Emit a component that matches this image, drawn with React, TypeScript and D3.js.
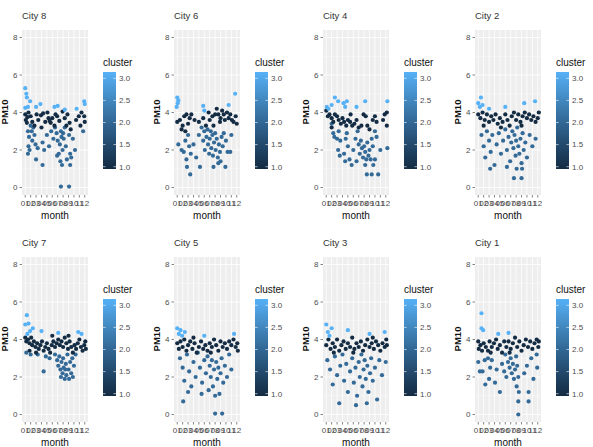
import React from 'react';
import * as d3 from 'd3';

// [month, PM10, cluster]
type Pt = [number, number, number];

const monthLabels = ['01', '02', '03', '04', '05', '06', '07', '08', '09', '10', '11', '12'];
const pmTicks = [0, 2, 4, 6, 8];
const pmMinor = [1, 3, 5, 7];
const clusterTicks = [1.0, 1.5, 2.0, 2.5, 3.0];

const city8: Pt[] = [
    [1.5, 3.0, 2], [1.7, 2.7, 2], [1.6, 2.2, 2], [1.5, 1.8, 2], [1.8, 2.0, 2], [2.2, 3.0, 2], [2.3, 2.5, 2], [2.5, 3.2, 2],
    [2.7, 2.8, 2], [2.9, 2.3, 2], [3.0, 1.5, 2], [3.3, 2.1, 2], [4.2, 1.2, 2], [4.2, 2.4, 2], [4.5, 2.0, 2], [5.0, 2.8, 2],
    [5.4, 2.2, 2], [5.8, 3.0, 2], [6.2, 2.6, 2], [6.5, 3.2, 2], [6.8, 2.9, 2], [7.0, 2.5, 2], [7.2, 1.8, 2], [7.4, 2.3, 2],
    [7.6, 3.0, 2], [7.7, 2.7, 2], [7.8, 1.2, 2], [7.9, 2.0, 2], [8.1, 2.6, 2], [8.3, 3.2, 2], [8.5, 2.2, 2], [8.7, 1.5, 2],
    [9.3, 1.2, 2], [9.1, 2.8, 2], [9.3, 1.8, 2], [9.5, 1.6, 2], [9.8, 2.6, 2], [10.2, 2.0, 2], [11.7, 3.0, 2], [7.6, 0.05, 2],
    [9.1, 0.05, 2], [6.9, 1.7, 2], [2.0, 3.3, 2], [8.0, 2.9, 2], [7.5, 1.4, 2],
    [1.0, 3.9, 1], [1.1, 3.6, 1], [1.4, 3.75, 1], [1.6, 4.0, 1], [2.0, 3.8, 1], [2.3, 3.5, 1], [2.7, 3.3, 1], [3.1, 3.9, 1],
    [3.4, 3.6, 1], [3.9, 3.85, 1], [4.3, 3.95, 1], [4.7, 3.5, 1], [5.1, 4.0, 1], [5.3, 3.7, 1], [5.5, 3.55, 1], [5.7, 3.45, 1],
    [6.0, 3.7, 1], [6.4, 3.3, 1], [6.9, 3.8, 1], [7.3, 3.55, 1], [7.9, 4.05, 1], [8.3, 3.7, 1], [8.8, 3.9, 1], [9.2, 3.45, 1],
    [10.4, 3.6, 1], [10.9, 3.8, 1], [11.4, 4.0, 1], [11.9, 3.8, 1], [12.0, 3.5, 1], [11.2, 3.3, 1], [9.4, 3.1, 1], [1.3, 3.45, 1],
    [4.0, 3.2, 1], [6.6, 3.9, 1], [8.6, 3.3, 1],
    [1.0, 5.3, 3], [1.2, 5.0, 3], [1.3, 4.8, 3], [1.9, 4.6, 3], [1.0, 4.25, 3], [1.5, 4.3, 3], [3.0, 4.3, 3], [3.8, 4.45, 3],
    [6.4, 4.3, 3], [7.0, 4.35, 3], [8.3, 4.15, 3], [10.5, 4.2, 3], [11.9, 4.6, 3], [12.0, 4.45, 3],
];

const city6: Pt[] = [
    [1.2, 2.3, 2], [1.8, 2.0, 2], [2.2, 1.9, 2], [2.5, 2.5, 2], [2.7, 1.5, 2], [3.0, 2.8, 2], [3.2, 2.2, 2], [3.5, 1.8, 2],
    [3.4, 0.7, 2], [2.8, 1.1, 2], [5.2, 1.1, 2], [4.0, 2.3, 2], [4.5, 1.6, 2], [5.0, 2.8, 2], [5.5, 3.2, 2], [5.8, 2.5, 2],
    [6.0, 3.0, 2], [6.1, 2.0, 2], [6.4, 2.7, 2], [6.6, 3.1, 2], [6.7, 2.3, 2], [6.9, 1.8, 2], [7.0, 2.6, 2], [7.2, 3.0, 2],
    [7.3, 2.1, 2], [7.5, 2.8, 2], [7.6, 1.7, 2], [7.8, 2.4, 2], [8.0, 2.9, 2], [8.1, 2.0, 2], [8.3, 2.6, 2], [8.5, 1.6, 2],
    [8.7, 2.3, 2], [8.9, 1.9, 2], [9.0, 1.4, 2], [9.2, 2.7, 2], [9.4, 2.2, 2], [9.6, 2.9, 2], [10.0, 2.5, 2], [10.3, 1.9, 2],
    [11.0, 2.8, 2], [7.7, 1.1, 2], [9.9, 1.1, 2], [8.6, 1.3, 2], [10.8, 1.9, 2],
    [1.0, 3.5, 1], [1.5, 3.6, 1], [2.0, 3.3, 1], [2.3, 3.8, 1], [2.7, 3.9, 1], [3.3, 3.7, 1], [3.6, 3.9, 1], [2.5, 3.0, 1],
    [3.0, 3.4, 1], [5.0, 3.5, 1], [5.8, 3.7, 1], [6.8, 4.0, 1], [7.0, 3.6, 1], [7.5, 3.8, 1], [8.0, 3.9, 1], [8.3, 4.2, 1],
    [8.6, 3.9, 1], [8.9, 3.5, 1], [9.3, 4.1, 1], [9.6, 3.9, 1], [9.8, 3.6, 1], [10.2, 4.0, 1], [10.5, 3.7, 1], [10.8, 3.9, 1],
    [11.1, 3.6, 1], [11.4, 3.5, 1], [11.8, 3.8, 1], [12.0, 3.4, 1], [7.7, 3.3, 1], [4.2, 3.6, 1], [1.8, 3.1, 1], [9.0, 3.7, 1],
    [6.3, 3.3, 1],
    [1.0, 4.8, 3], [1.2, 4.65, 3], [0.9, 4.3, 3], [1.1, 4.5, 3], [5.8, 4.35, 3], [6.0, 4.1, 3], [10.5, 4.4, 3], [11.7, 5.0, 3],
];

const city4: Pt[] = [
    [2.0, 3.4, 2], [2.3, 2.9, 2], [2.5, 2.7, 2], [3.0, 2.6, 2], [3.3, 3.0, 2], [3.6, 2.5, 2], [3.2, 2.0, 2], [3.5, 1.7, 2],
    [4.5, 1.4, 2], [4.3, 1.8, 2], [4.6, 2.6, 2], [5.0, 2.2, 2], [5.3, 1.5, 2], [5.7, 1.2, 2], [6.0, 2.0, 2], [6.4, 2.6, 2],
    [6.8, 3.0, 2], [7.0, 2.3, 2], [7.2, 1.8, 2], [7.4, 2.5, 2], [7.6, 2.1, 2], [7.8, 1.6, 2], [8.0, 2.2, 2], [8.2, 1.9, 2],
    [8.4, 1.5, 2], [8.6, 2.4, 2], [8.8, 1.7, 2], [9.0, 2.0, 2], [9.2, 1.5, 2], [9.4, 2.6, 2], [9.6, 2.2, 2], [10.0, 3.0, 2],
    [10.3, 2.7, 2], [12.3, 2.1, 2], [8.2, 1.2, 2], [9.7, 1.2, 2], [8.5, 0.7, 2], [9.4, 0.7, 2], [10.6, 0.7, 2], [10.0, 1.5, 2],
    [6.6, 1.4, 2], [11.0, 2.0, 2], [4.8, 2.9, 2],
    [1.0, 4.1, 1], [1.3, 3.8, 1], [1.6, 3.9, 1], [2.0, 3.7, 1], [2.3, 3.5, 1], [2.6, 3.9, 1], [3.0, 3.8, 1], [3.3, 3.6, 1],
    [3.7, 3.4, 1], [4.0, 3.7, 1], [4.3, 3.5, 1], [4.7, 3.3, 1], [5.0, 3.6, 1], [5.4, 3.5, 1], [5.8, 3.3, 1], [6.2, 3.4, 1],
    [6.6, 3.6, 1], [7.0, 3.2, 1], [7.5, 3.3, 1], [7.9, 3.9, 1], [8.3, 3.8, 1], [8.6, 3.3, 1], [9.0, 3.1, 1], [9.6, 3.6, 1],
    [10.0, 3.8, 1], [10.3, 3.5, 1], [11.5, 3.6, 1], [11.8, 3.9, 1], [12.2, 4.0, 1], [12.2, 3.3, 1], [2.0, 3.2, 1], [5.5, 3.9, 1],
    [1.1, 4.3, 3], [1.4, 4.2, 3], [2.6, 4.8, 3], [3.2, 4.6, 3], [4.2, 4.5, 3], [4.5, 4.3, 3], [4.8, 4.6, 3], [6.6, 4.3, 3],
    [8.2, 4.6, 3], [12.3, 4.6, 3], [2.0, 4.4, 3],
];

const city2: Pt[] = [
    [1.6, 2.8, 2], [2.0, 2.2, 2], [2.3, 1.6, 2], [2.6, 3.0, 2], [3.0, 2.5, 2], [3.3, 1.9, 2], [3.6, 2.8, 2], [4.0, 1.2, 2],
    [4.4, 2.3, 2], [4.8, 2.9, 2], [5.2, 1.8, 2], [5.6, 2.5, 2], [6.0, 3.1, 2], [6.3, 2.0, 2], [6.6, 2.7, 2], [6.9, 1.4, 2],
    [7.1, 2.4, 2], [7.3, 3.0, 2], [7.5, 2.1, 2], [7.7, 2.8, 2], [7.9, 1.7, 2], [8.0, 2.5, 2], [8.2, 3.2, 2], [8.4, 2.2, 2],
    [8.6, 1.8, 2], [8.8, 2.6, 2], [9.0, 1.3, 2], [9.2, 2.9, 2], [9.4, 2.0, 2], [9.7, 2.4, 2], [10.0, 1.6, 2], [10.5, 2.8, 2],
    [11.0, 2.2, 2], [11.6, 2.6, 2], [8.1, 1.0, 2], [9.1, 1.0, 2], [7.6, 0.5, 2], [9.0, 0.5, 2], [3.2, 1.0, 2], [6.3, 1.1, 2],
    [1.0, 3.9, 1], [1.4, 3.7, 1], [1.8, 4.0, 1], [2.2, 3.6, 1], [2.6, 3.9, 1], [3.0, 3.5, 1], [3.4, 3.8, 1], [3.8, 3.6, 1],
    [4.2, 3.9, 1], [4.6, 3.4, 1], [5.0, 3.7, 1], [5.5, 3.5, 1], [6.0, 3.9, 1], [6.4, 3.6, 1], [6.8, 3.3, 1], [7.2, 3.8, 1],
    [7.6, 4.0, 1], [8.0, 3.6, 1], [8.4, 3.9, 1], [8.8, 3.5, 1], [9.2, 3.8, 1], [9.6, 4.0, 1], [10.0, 3.7, 1], [10.4, 3.9, 1],
    [10.8, 3.6, 1], [11.2, 3.8, 1], [11.6, 3.5, 1], [12.0, 3.7, 1], [12.2, 4.0, 1], [2.0, 3.3, 1], [5.2, 3.2, 1], [9.0, 3.3, 1],
    [1.0, 4.5, 3], [1.3, 4.3, 3], [1.5, 4.8, 3], [1.8, 4.4, 3], [3.0, 4.2, 3], [6.0, 4.3, 3], [9.5, 4.5, 3], [11.5, 4.6, 3],
];

const city7: Pt[] = [
    [1.2, 3.3, 2], [2.0, 3.2, 2], [3.3, 3.2, 2], [4.4, 2.3, 2], [4.8, 3.1, 2], [5.5, 3.0, 2], [6.5, 3.2, 2], [6.9, 2.9, 2],
    [7.1, 2.6, 2], [7.3, 3.1, 2], [7.5, 2.4, 2], [7.7, 2.8, 2], [7.9, 2.2, 2], [8.0, 3.0, 2], [8.1, 2.5, 2], [8.3, 1.9, 2],
    [8.5, 2.7, 2], [8.6, 2.1, 2], [8.8, 3.2, 2], [9.0, 2.4, 2], [9.1, 1.9, 2], [9.3, 2.8, 2], [9.5, 2.2, 2], [9.7, 3.0, 2],
    [10.0, 2.6, 2], [10.3, 3.2, 2], [9.8, 2.0, 2], [8.4, 2.4, 2], [7.6, 2.0, 2],
    [1.0, 4.1, 1], [1.2, 3.9, 1], [1.5, 4.0, 1], [1.8, 3.8, 1], [2.1, 4.1, 1], [2.3, 3.7, 1], [2.6, 3.9, 1], [2.9, 3.6, 1],
    [3.2, 3.8, 1], [3.5, 3.5, 1], [3.8, 3.7, 1], [4.1, 3.9, 1], [4.4, 3.4, 1], [4.7, 3.6, 1], [5.0, 3.8, 1], [5.3, 3.5, 1],
    [5.6, 3.3, 1], [5.9, 3.7, 1], [6.2, 3.9, 1], [6.5, 3.6, 1], [6.8, 3.8, 1], [7.1, 4.0, 1], [7.4, 3.7, 1], [7.7, 3.9, 1],
    [8.0, 3.6, 1], [8.3, 4.1, 1], [8.6, 3.8, 1], [8.9, 3.5, 1], [9.2, 3.9, 1], [9.5, 3.6, 1], [9.8, 3.3, 1], [10.1, 3.7, 1],
    [10.4, 3.5, 1], [10.7, 3.8, 1], [11.0, 4.0, 1], [11.3, 3.6, 1], [11.6, 3.4, 1], [11.9, 3.7, 1], [12.1, 3.9, 1], [12.2, 3.5, 1],
    [3.0, 3.3, 1], [6.0, 4.2, 1], [9.0, 4.2, 1], [1.8, 3.4, 1],
    [1.3, 5.3, 3], [1.0, 4.8, 3], [1.6, 4.85, 3], [1.9, 4.45, 3], [1.4, 4.3, 3], [4.0, 4.45, 3], [7.1, 4.35, 3], [10.8, 4.4, 3],
    [11.4, 4.3, 3], [2.4, 4.6, 3],
];

const city5: Pt[] = [
    [1.5, 3.0, 2], [2.0, 2.5, 2], [2.3, 1.8, 2], [2.1, 0.7, 2], [2.8, 3.2, 2], [3.2, 2.3, 2], [3.6, 1.5, 2], [4.0, 2.8, 2],
    [4.4, 2.0, 2], [4.8, 3.3, 2], [5.2, 2.5, 2], [5.6, 1.7, 2], [6.0, 2.9, 2], [6.3, 2.2, 2], [6.6, 3.1, 2], [6.8, 1.3, 2],
    [7.0, 2.6, 2], [7.2, 2.0, 2], [7.4, 2.9, 2], [7.6, 1.5, 2], [7.8, 2.4, 2], [8.0, 1.0, 2], [8.0, 0.05, 2], [8.2, 2.8, 2],
    [8.4, 1.9, 2], [8.6, 2.5, 2], [8.8, 1.1, 2], [9.0, 2.2, 2], [9.3, 0.05, 2], [9.2, 3.0, 2], [9.5, 1.7, 2], [9.8, 2.6, 2],
    [10.2, 2.0, 2], [10.6, 3.2, 2], [11.0, 2.4, 2], [3.0, 1.2, 2], [5.5, 1.1, 2],
    [1.0, 3.8, 1], [1.3, 3.5, 1], [1.6, 3.9, 1], [2.0, 3.6, 1], [2.3, 4.0, 1], [2.7, 3.4, 1], [3.0, 3.7, 1], [3.4, 3.9, 1],
    [3.8, 3.5, 1], [4.2, 3.8, 1], [4.6, 3.3, 1], [5.0, 3.6, 1], [5.4, 3.9, 1], [5.8, 3.5, 1], [6.2, 3.7, 1], [6.6, 3.4, 1],
    [7.0, 3.8, 1], [7.4, 3.6, 1], [7.8, 4.0, 1], [8.2, 3.7, 1], [8.6, 3.4, 1], [9.0, 3.9, 1], [9.4, 3.6, 1], [9.8, 3.8, 1],
    [10.2, 3.5, 1], [10.6, 3.9, 1], [11.0, 3.7, 1], [11.4, 4.0, 1], [11.8, 3.6, 1], [12.1, 3.8, 1], [12.2, 3.4, 1], [4.0, 4.1, 1],
    [7.2, 3.3, 1],
    [1.0, 4.6, 3], [1.3, 4.3, 3], [1.6, 4.5, 3], [1.9, 4.2, 3], [2.4, 4.4, 3], [6.0, 4.2, 3], [11.5, 4.3, 3],
];

const city3: Pt[] = [
    [1.2, 2.9, 2], [1.7, 2.4, 2], [2.2, 1.6, 2], [2.6, 3.1, 2], [3.0, 2.1, 2], [3.4, 0.6, 2], [3.6, 2.6, 2], [4.0, 3.2, 2],
    [4.3, 1.8, 2], [4.7, 2.7, 2], [5.0, 1.2, 2], [5.4, 2.3, 2], [5.8, 3.0, 2], [6.1, 1.7, 2], [6.4, 2.5, 2], [6.7, 1.0, 2],
    [7.0, 2.8, 2], [7.2, 2.0, 2], [7.5, 3.2, 2], [7.7, 1.5, 2], [7.9, 2.4, 2], [8.1, 2.9, 2], [8.3, 1.9, 2], [8.6, 2.6, 2],
    [8.8, 1.2, 2], [9.1, 2.2, 2], [9.3, 3.0, 2], [9.6, 1.8, 2], [10.0, 2.5, 2], [10.4, 0.8, 2], [10.8, 2.9, 2], [11.3, 2.1, 2],
    [12.0, 2.8, 2], [6.5, 0.5, 2], [8.5, 0.6, 2],
    [1.0, 3.7, 1], [1.4, 4.0, 1], [1.8, 3.5, 1], [2.2, 3.8, 1], [2.6, 3.6, 1], [3.0, 4.0, 1], [3.4, 3.4, 1], [3.8, 3.7, 1],
    [4.2, 3.9, 1], [4.6, 3.5, 1], [5.0, 3.8, 1], [5.4, 3.6, 1], [5.8, 4.1, 1], [6.2, 3.5, 1], [6.6, 3.8, 1], [7.0, 3.6, 1],
    [7.4, 3.9, 1], [7.8, 3.4, 1], [8.2, 3.7, 1], [8.6, 4.0, 1], [9.0, 3.6, 1], [9.4, 3.8, 1], [9.8, 3.5, 1], [10.2, 3.9, 1],
    [10.6, 3.7, 1], [11.0, 3.4, 1], [11.4, 3.8, 1], [11.8, 3.6, 1], [12.1, 4.0, 1], [12.2, 3.7, 1], [2.4, 3.3, 1], [6.0, 3.3, 1],
    [9.6, 4.1, 1],
    [1.0, 4.8, 3], [1.3, 4.4, 3], [1.6, 4.2, 3], [2.0, 4.6, 3], [5.0, 4.5, 3], [9.0, 4.3, 3], [11.8, 4.4, 3],
];

const city1: Pt[] = [
    [1.0, 2.8, 2], [1.3, 2.3, 2], [1.8, 2.3, 2], [2.3, 1.6, 2], [2.2, 2.9, 2], [2.8, 3.0, 2], [3.2, 2.5, 2], [3.5, 2.9, 2],
    [4.1, 1.7, 2], [4.4, 2.4, 2], [5.0, 1.2, 2], [5.4, 2.7, 2], [5.8, 2.3, 2], [6.0, 3.2, 2], [6.2, 2.0, 2], [6.5, 2.8, 2],
    [6.8, 2.5, 2], [7.0, 3.0, 2], [7.2, 2.2, 2], [7.4, 2.7, 2], [7.6, 1.9, 2], [7.8, 2.4, 2], [8.0, 3.1, 2], [8.2, 2.6, 2],
    [8.4, 2.0, 2], [8.1, 1.5, 2], [8.5, 1.2, 2], [8.4, 0.7, 2], [8.4, 0.0, 2], [10.3, 0.7, 2], [10.3, 1.2, 2], [9.5, 2.2, 2],
    [10.0, 2.6, 2], [10.8, 3.0, 2], [11.2, 1.9, 2], [11.8, 3.2, 2], [11.9, 2.5, 2], [3.0, 1.9, 2],
    [1.0, 3.9, 1], [1.1, 3.5, 1], [1.4, 3.7, 1], [1.7, 3.4, 1], [2.0, 3.8, 1], [2.4, 3.6, 1], [2.8, 3.4, 1], [3.1, 3.9, 1],
    [3.5, 3.6, 1], [3.9, 3.8, 1], [4.3, 4.0, 1], [4.6, 3.5, 1], [5.0, 3.7, 1], [5.4, 3.3, 1], [5.8, 3.9, 1], [6.2, 3.6, 1],
    [6.6, 3.9, 1], [7.0, 3.5, 1], [7.4, 3.8, 1], [7.8, 4.1, 1], [8.2, 3.6, 1], [8.6, 3.9, 1], [9.0, 3.4, 1], [9.4, 3.7, 1],
    [9.8, 4.0, 1], [10.2, 3.6, 1], [10.6, 3.9, 1], [11.0, 3.5, 1], [11.4, 3.8, 1], [11.8, 4.0, 1], [12.1, 3.6, 1], [12.2, 3.9, 1],
    [3.3, 3.3, 1], [6.8, 3.3, 1],
    [1.6, 5.4, 3], [1.6, 4.6, 3], [1.9, 4.5, 3], [4.7, 4.3, 3], [6.6, 4.35, 3],
];

const cityNames = ['City 8', 'City 6', 'City 4', 'City 2', 'City 7', 'City 5', 'City 3', 'City 1'];
const cityData = [city8, city6, city4, city2, city7, city5, city3, city1];

const colX = [0, 152, 301, 453];
const rowY = [0, 227];

const FONT = '"Liberation Sans", Arial, sans-serif';

// ggplot's default continuous colour gradient
const clusterColor = d3.scaleLinear<string>()
    .domain([1, 3])
    .range(['#132B43', '#56B1F7'])
    .interpolate(d3.interpolateLab);

function Panel({ title, data, x0, y0 }: { title: string, data: Pt[], x0: number, y0: number }) {
    const x = d3.scaleLinear().domain([0.4, 12.6]).range([22, 88]);
    const y = d3.scaleLinear().domain([-0.4, 8.4]).range([195, 30]);
    const bar = d3.scaleLinear().domain([1, 3]).range([166.7, 78.3]);
    return (
        <g transform={`translate(${x0},${y0})`}>
            <text x={22} y={19} fontSize={9.5} fill="#333">{title}</text>
            <rect x={22} y={30} width={66} height={165} fill="#EEEEEE" />
            {pmMinor.map(v => <line key={'m' + v} x1={22} x2={88} y1={y(v)} y2={y(v)} stroke="#fff" strokeWidth={0.4} />)}
            {pmTicks.map(v => <line key={'g' + v} x1={22} x2={88} y1={y(v)} y2={y(v)} stroke="#fff" strokeWidth={0.8} />)}
            {monthLabels.map((m, i) => <line key={m} x1={x(i + 1)} x2={x(i + 1)} y1={30} y2={195} stroke="#fff" strokeWidth={0.8} />)}
            {data.map((d, i) => <circle key={i} cx={x(d[0])} cy={y(d[1])} r={2.1} fill={clusterColor(d[2])} />)}
            {pmTicks.map(v => (
                <g key={'t' + v}>
                    <line x1={19.5} x2={22} y1={y(v)} y2={y(v)} stroke="#333" strokeWidth={0.6} />
                    <text x={17.5} y={y(v)} dy="0.35em" textAnchor="end" fontSize={8} fill="#4D4D4D">{v}</text>
                </g>
            ))}
            {monthLabels.map((m, i) => (
                <g key={'x' + m}>
                    <line x1={x(i + 1)} x2={x(i + 1)} y1={195} y2={197.5} stroke="#333" strokeWidth={0.6} />
                    <text x={x(i + 1)} y={206} textAnchor="middle" fontSize={8} fill="#4D4D4D">{m}</text>
                </g>
            ))}
            <text x={55} y={218.5} textAnchor="middle" fontSize={10} fill="#111">month</text>
            <text transform="translate(8,112) rotate(-90)" textAnchor="middle" fontSize={9.5} fontWeight={600} fill="#111">PM10</text>
            <text x={103} y={66} fontSize={10} fill="#111">cluster</text>
            <rect x={103} y={72} width={13} height={97} fill="url(#clusterbar)" />
            {clusterTicks.map(v => (
                <g key={'c' + v}>
                    <line x1={103} x2={105.6} y1={bar(v)} y2={bar(v)} stroke="#fff" strokeWidth={0.6} />
                    <line x1={113.4} x2={116} y1={bar(v)} y2={bar(v)} stroke="#fff" strokeWidth={0.6} />
                    <text x={119} y={bar(v)} dy="0.35em" fontSize={8} fill="#4D4D4D">{v.toFixed(1)}</text>
                </g>
            ))}
        </g>
    );
}

export default function App() {
    const stops = d3.range(0, 1.0001, 0.1);
    return (
        <svg width={593} height={447} style={{ position: 'absolute', left: 0, top: 0, background: '#fff' }} fontFamily={FONT}>
            <defs>
                <linearGradient id="clusterbar" x1="0" y1="1" x2="0" y2="0">
                    {stops.map(t => <stop key={t} offset={t} stopColor={clusterColor(1 + 2 * t)} />)}
                </linearGradient>
            </defs>
            {cityNames.map((name, i) => (
                <Panel key={name} title={name} data={cityData[i]} x0={colX[i % 4]} y0={rowY[Math.floor(i / 4)]} />
            ))}
        </svg>
    );
}
